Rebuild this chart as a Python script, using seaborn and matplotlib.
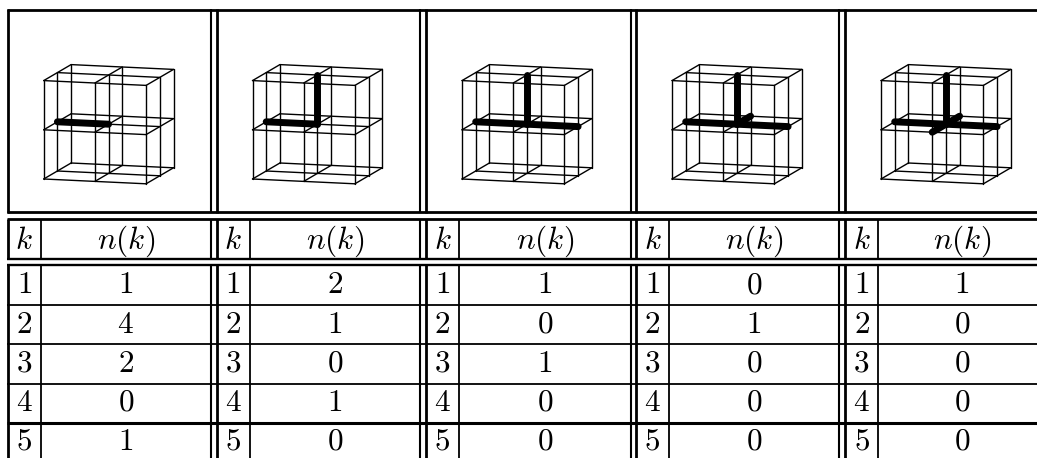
import numpy as np
import pandas as pd
import matplotlib
matplotlib.use('Agg')
import matplotlib.pyplot as plt
import seaborn as sns

# table contents
k_values = [1, 2, 3, 4, 5]
n_col1 = [1, 4, 2, 0, 1]
n_col2 = [2, 1, 0, 1, 0]
n_col3 = [1, 0, 1, 0, 0]
n_col4 = [0, 1, 0, 0, 0]
n_col5 = [1, 0, 0, 0, 0]
n_columns = [n_col1, n_col2, n_col3, n_col4, n_col5]

# thick bonds per panel, as lattice nodes (x, depth, z) around the centre node
bonds1 = [((0, 1, 1), (1, 1, 1))]
bonds2 = bonds1 + [((1, 1, 1), (1, 1, 2))]
bonds3 = bonds2 + [((1, 1, 1), (2, 1, 1))]
bonds4 = bonds3 + [((1, 1, 1), (1, 2, 1))]
bonds5 = bonds4 + [((1, 1, 1), (1, 0, 1))]
panel_bonds = [bonds1, bonds2, bonds3, bonds4, bonds5]

# layout in pixels
col_left = [7.7, 216.5, 426.0, 636.0, 845.0]
col_sep = [40.7, 249.6, 459.0, 669.0, 878.0]
col_right = [211.0, 420.0, 630.7, 838.5]
row_lines = [304.5, 344.0, 383.5]
row_base = [293.3, 332.7, 371.7, 410.7, 450.0]
FONT = 22.5


def project(node, left):
    x, d, z = node
    return left + 36 + 51.2 * x + 13.7 * d, 179 + 2.4 * x - 8.0 * d - 49.2 * z


def lattice_segments():
    segs = []
    for a in range(3):
        for b in range(3):
            segs.append(((0, a, b), (2, a, b)))
            segs.append(((a, 0, b), (a, 2, b)))
            segs.append(((a, b, 0), (a, b, 2)))
    return segs


def segments_frame(segs, left):
    rows = []
    for i, (p, q) in enumerate(segs):
        for node in (p, q):
            px, py = project(node, left)
            rows.append({'seg': i, 'px': px, 'py': py})
    return pd.DataFrame(rows)


def main():
    sns.set_theme(style='white')
    plt.rcParams['mathtext.fontset'] = 'cm'
    plt.rcParams['font.family'] = ['DejaVu Serif']

    fig = plt.figure(figsize=(10.37, 4.58), dpi=100)
    ax = fig.add_axes([0, 0, 1, 1])

    # wireframes and thick bonds
    for left, bonds in zip(col_left, panel_bonds):
        sns.lineplot(data=segments_frame(lattice_segments(), left), x='px', y='py', units='seg',
                     estimator=None, sort=False, color='black', linewidth=1.0, ax=ax)
        sns.lineplot(data=segments_frame(bonds, left), x='px', y='py', units='seg',
                     estimator=None, sort=False, color='black', linewidth=5.0,
                     solid_capstyle='round', ax=ax)

    ax.set_xlim(0, 1037)
    ax.set_ylim(458, 0)
    ax.axis('off')

    # horizontal rules
    ax.hlines(9.7, 6.7, 1037, color='black', lw=2.0)
    ax.hlines(212, 6.7, 1037, color='black', lw=2.0)
    ax.hlines(219.3, 6.7, 1037, color='black', lw=2.0)
    ax.hlines(258.5, 6.7, 1037, color='black', lw=1.7)
    ax.hlines(265, 6.7, 1037, color='black', lw=1.7)
    ax.hlines(row_lines, 6.7, 1037, color='black', lw=1.3)
    ax.hlines(423, 6.7, 1037, color='black', lw=2.2)

    # vertical rules, broken at the gaps between the tables
    spans = [(9, 213), (218.5, 259.3), (264.3, 458)]
    for top, bottom in spans:
        ax.vlines(col_left, top, bottom, color='black', lw=2.0)
        ax.vlines(col_right, top, bottom, color='black', lw=1.5)
    ax.vlines(col_sep, 218.5, 259.3, color='black', lw=1.3)
    ax.vlines(col_sep, 264.3, 458, color='black', lw=1.3)

    # text
    for i, left in enumerate(col_left):
        sep = col_sep[i]
        right = col_right[i] if i < len(col_right) else 1037
        kx = (left + sep) / 2
        nx = (sep + right) / 2 if i < len(col_right) else sep + 84
        ax.text(kx, 249, '$k$', ha='center', va='baseline', fontsize=FONT, color='black')
        ax.text(nx, 249, '$n(k)$', ha='center', va='baseline', fontsize=FONT, color='black')
        for k, n, y in zip(k_values, n_columns[i], row_base):
            ax.text(kx, y, f'${k}$', ha='center', va='baseline', fontsize=FONT, color='black')
            ax.text(nx, y, f'${n}$', ha='center', va='baseline', fontsize=FONT, color='black')

    plt.savefig('out.png', dpi=100)
    plt.close()


if __name__ == '__main__':
    main()
